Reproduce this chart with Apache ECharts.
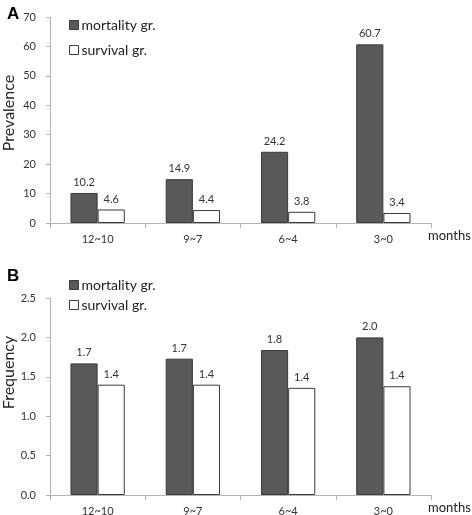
<!DOCTYPE html>
<html>
<head>
<meta charset="utf-8">
<script src="https://cdn.jsdelivr.net/npm/echarts@6/dist/echarts.min.js"></script>
<style>html,body{margin:0;padding:0;background:#fff;}#c{width:472px;height:515px;}</style>
</head>
<body>
<div id="c"></div>
<script>
const categories = ['12~10', '9~7', '6~4', '3~0'];
const seriesNames = ['mortality gr.', 'survival gr.'];
const prevalenceMortality = [10.2, 14.9, 24.2, 60.7];
const prevalenceSurvival = [4.6, 4.4, 3.8, 3.4];
const frequencyMortality = [1.67, 1.73, 1.84, 2.00];
const frequencySurvival = [1.40, 1.40, 1.36, 1.38];
const prevalenceAxis = { min: 0, max: 70, interval: 10 };
const frequencyAxis = { min: 0, max: 2.5, interval: 0.5 };
const panelLabels = ['A', 'B'];
const xAxisName = 'months';
const yAxisNames = ['Prevalence', 'Frequency'];

const FONT = 'Lato';
const axisColor = '#b3b3b3';
const textColor = '#333';
const darkFill = '#595959';
const yNameShift = [14, 48];

function xAxisFor(idx) {
  return {
    type: 'category', gridIndex: idx, data: categories,
    name: xAxisName, nameLocation: 'end', nameGap: -3, nameMoveOverlap: false,
    nameTextStyle: { fontFamily: FONT, fontSize: 13, color: '#222', align: 'left', verticalAlign: 'top', padding: [6, 0, 0, 0] },
    axisLine: { lineStyle: { color: axisColor, width: 1 } },
    axisTick: { show: true, alignWithLabel: false, length: 5, lineStyle: { color: axisColor } },
    axisLabel: { fontFamily: FONT, fontSize: 11, color: textColor, margin: 11 },
    splitLine: { show: false }
  };
}
function yAxisFor(idx, cfg, fmt) {
  return {
    type: 'value', gridIndex: idx, min: cfg.min, max: cfg.max, interval: cfg.interval,
    name: yAxisNames[idx], nameLocation: 'middle', nameGap: 33, nameRotate: 90, nameMoveOverlap: false,
    nameTextStyle: { fontFamily: FONT, fontSize: 16, color: '#222', padding: [0, 0, 0, yNameShift[idx]] },
    axisLine: { show: true, lineStyle: { color: axisColor, width: 1 } },
    axisTick: { show: true, length: 4, lineStyle: { color: axisColor } },
    axisLabel: { fontFamily: FONT, fontSize: 11, color: textColor, margin: 14, formatter: fmt },
    splitLine: { show: false }
  };
}
function barSeries(idx, name, data, fill, fmt) {
  return {
    type: 'bar', name: name, xAxisIndex: idx, yAxisIndex: idx, data: data,
    barGap: '0%', barCategoryGap: '43%',
    itemStyle: { color: fill, borderColor: '#3a3a3a', borderWidth: 1 },
    label: { show: true, position: 'top', distance: 5, fontFamily: FONT, fontSize: 11, color: textColor, formatter: p => fmt(p.value) },
    emphasis: { disabled: true },
    animation: false
  };
}
const fmtA = v => v.toFixed(1);
const fmtB = v => v.toFixed(1);

const option = {
  animation: false,
  backgroundColor: '#fff',
  title: [
    { text: panelLabels[0], left: 2, top: 1, textStyle: { fontFamily: 'Liberation Sans', fontWeight: 'bold', fontSize: 17, color: '#000' } },
    { text: panelLabels[1], left: 2, top: 263, textStyle: { fontFamily: 'Liberation Sans', fontWeight: 'bold', fontSize: 17, color: '#000' } }
  ],
  legend: [
    { orient: 'vertical', left: 64, top: 13, itemWidth: 9, itemHeight: 9, itemGap: 11, icon: 'rect',
      data: [{ name: seriesNames[0], itemStyle: { color: darkFill, borderColor: '#3a3a3a', borderWidth: 1 } },
             { name: seriesNames[1], itemStyle: { color: '#fff', borderColor: '#3a3a3a', borderWidth: 1 } }],
      textStyle: { fontFamily: FONT, fontSize: 14, color: '#222', padding: [0, 0, 0, -2] }, selectedMode: false },
    { orient: 'vertical', left: 64, top: 273, itemWidth: 9, itemHeight: 9, itemGap: 6, icon: 'rect',
      data: [{ name: seriesNames[0], itemStyle: { color: darkFill, borderColor: '#3a3a3a', borderWidth: 1 } },
             { name: seriesNames[1], itemStyle: { color: '#fff', borderColor: '#3a3a3a', borderWidth: 1 } }],
      textStyle: { fontFamily: FONT, fontSize: 14, color: '#222', padding: [0, 0, 0, -2] }, selectedMode: false }
  ],
  grid: [
    { left: 50, right: 41, top: 17, height: 206, outerBoundsMode: 'none', containLabel: false },
    { left: 50, right: 41, top: 298, height: 197, outerBoundsMode: 'none', containLabel: false }
  ],
  xAxis: [xAxisFor(0), xAxisFor(1)],
  yAxis: [
    yAxisFor(0, prevalenceAxis, v => String(v)),
    yAxisFor(1, frequencyAxis, v => v.toFixed(1))
  ],
  series: [
    barSeries(0, seriesNames[0], prevalenceMortality, darkFill, fmtA),
    barSeries(0, seriesNames[1], prevalenceSurvival, '#fff', fmtA),
    barSeries(1, seriesNames[0], frequencyMortality, darkFill, fmtB),
    barSeries(1, seriesNames[1], frequencySurvival, '#fff', fmtB)
  ]
};
const chart = echarts.init(document.getElementById('c'), null, { renderer: 'canvas' });
chart.setOption(option);
</script>
</body>
</html>
